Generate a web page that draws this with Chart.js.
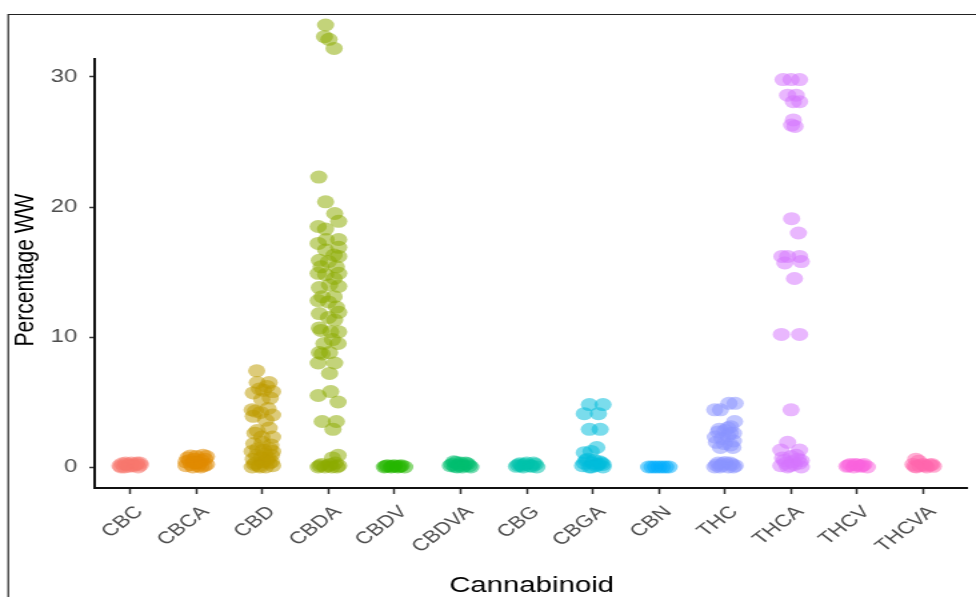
<!DOCTYPE html>
<html>
<head>
<meta charset="utf-8">
<script src="https://cdn.jsdelivr.net/npm/chart.js@4"></script>
<style>
  html, body { margin: 0; padding: 0; background: #ffffff; }
  #wrap { width: 976px; height: 597px; position: relative; overflow: hidden; }
  /* the figure is drawn on a narrower canvas and shown widened to 976px */
  #c { width: 976px; height: 597px; display: block; }
</style>
</head>
<body>
<div id="wrap"><canvas id="c" width="732" height="597" style="width:976px;height:597px"></canvas></div>
<script>
// Cannabinoid content (% w/w) per sample, as [jitter, value] pairs.
const categories = ['CBC', 'CBCA', 'CBD', 'CBDA', 'CBDV', 'CBDVA', 'CBG', 'CBGA', 'CBN', 'THC', 'THCA', 'THCV', 'THCVA'];
const yTicks = [0, 10, 20, 30];

const cbc = [[-0.18,0.1],[-0.14,0.25],[-0.1,0.0],[-0.06,0.2],[-0.02,0.05],[0.02,0.3],[0.06,0.1],[0.1,0.2],[0.14,0.0],[0.18,0.15],[-0.16,0.0],[0.0,0.15],[0.12,0.3],[-0.08,0.3],[0.17,0.3]];
const cbca = [[-0.18,0.1],[-0.12,0.5],[-0.06,0.0],[0,0.8],[0.06,0.3],[0.12,0.9],[0.18,0.2],[-0.15,0.7],[-0.09,0.2],[-0.03,0.6],[0.03,0.1],[0.09,0.5],[0.15,0.6],[0.18,0.8],[-0.18,0.4],[0.0,0.3],[0.08,0.0],[-0.1,0.85],[0.14,0.1],[-0.04,0.35]];
const cbd = [[-0.10,7.4],[-0.09,6.5],[0.12,6.5],[-0.16,5.7],[0.02,5.9],[0.18,5.8],[0.14,5.3],[-0.01,5.2],[0.08,6.2],[-0.05,6.0],
  [-0.18,4.4],[-0.03,4.2],[-0.16,3.9],[0.18,4.0],[0.06,3.6],[0.1,4.5],[-0.12,4.3],[-0.09,2.8],[0.12,3.0],[0.18,2.3],[-0.01,2.3],[-0.13,2.6],
  [0.0,1.9],[0.15,1.7],[-0.15,1.8],
  [-0.18,0.0],[-0.12,0.3],[-0.06,0.1],[0,0.4],[0.06,0.0],[0.12,0.3],[0.18,0.1],[-0.16,0.6],[-0.1,0.9],[-0.02,0.7],[0.04,1.0],[0.1,0.7],
  [0.16,0.9],[-0.18,1.2],[-0.08,1.4],[0.02,1.3],[0.13,1.4],[0.18,1.2],[-0.14,0.2],[0.08,0.5],[-0.04,0.0],[0.16,0.4]];
const cbda = [[-0.05,34.0],[-0.07,33.1],[0.01,32.9],[0.10,32.2],
  [-0.17,22.3],[-0.05,20.4],[0.11,19.5],[0.18,18.9],[-0.18,18.5],[-0.05,18.3],[0.18,17.5],[-0.18,17.2],[-0.04,17.5],[0.18,16.9],
  [-0.05,16.7],[0.10,16.3],[0.18,16.2],[-0.16,15.9],[0.0,15.8],[-0.13,15.4],[0.14,15.4],[-0.18,14.9],[-0.05,14.8],[0.18,14.9],
  [0.10,14.5],[-0.16,13.8],[0.02,14.0],[0.18,13.9],[-0.11,13.1],[0.10,13.1],[-0.18,12.8],[0.0,12.7],[0.14,12.3],[-0.16,11.8],
  [0.18,11.9],[0.0,11.5],[0.11,11.3],[-0.16,10.7],[0.04,10.4],[0.18,10.4],[-0.13,10.5],[0.07,9.8],[-0.08,9.5],[0.17,9.5],
  [-0.16,8.8],[0.02,8.8],[-0.11,8.7],[-0.18,8.0],[0.11,8.0],[0.02,7.2],[-0.18,5.5],[0.04,5.8],[0.17,5.0],[-0.11,3.5],[0.14,3.5],
  [0.08,2.9],[0.17,0.9],[0.07,0.7],
  [-0.18,0.0],[-0.12,0.2],[-0.06,0.0],[0,0.1],[0.06,0.0],[0.12,0.3],[0.18,0.1],[-0.15,0.1],[0.03,0.2],[0.15,0.0]];
const cbdv = [[-0.18,0.0],[-0.12,0.1],[-0.06,0.0],[0,0.1],[0.06,0.0],[0.12,0.1],[0.18,0.0],[-0.15,0.05],[0.09,0.05],[-0.03,0.05]];
const cbdva = [[-0.18,0.1],[-0.12,0.4],[-0.06,0.0],[0,0.3],[0.06,0.1],[0.12,0.25],[0.18,0.0],[-0.15,0.2],[-0.08,0.35],[0.03,0.0],[0.09,0.3],[0.15,0.1],[-0.02,0.15],[-0.1,0.05]];
const cbg = [[-0.18,0.05],[-0.12,0.25],[-0.06,0.0],[0,0.3],[0.06,0.1],[0.12,0.3],[0.18,0.0],[-0.15,0.15],[-0.03,0.2],[0.09,0.05],[0.15,0.2],[-0.09,0.1]];
const cbga = [[-0.06,4.8],[0.18,4.8],[-0.15,4.1],[0.10,4.1],[-0.06,2.9],[0.13,2.9],[0.07,1.5],[-0.15,1.1],[-0.03,1.2],
  [-0.18,0.1],[-0.12,0.5],[-0.06,0.0],[0,0.3],[0.06,0.1],[0.12,0.4],[0.18,0.0],[-0.15,0.3],[-0.09,0.6],[0.03,0.5],[0.09,0.2],[0.15,0.3],[-0.02,0.0],[0.18,0.2]];
const cbn = [[-0.18,0],[-0.12,0],[-0.06,0],[0,0],[0.06,0],[0.12,0],[0.18,0]];
const thc = [[-0.18,4.4],[-0.08,4.4],[0.07,4.9],[0.18,4.9],[0.17,3.5],[0.10,3.1],
  [-0.12,2.7],[0.0,2.8],[0.09,2.6],[-0.17,2.3],[-0.05,2.2],[0.05,2.4],[0.15,2.0],[-0.15,1.9],[-0.01,1.8],[0.1,1.7],[-0.08,1.5],
  [0.14,1.5],[-0.1,2.9],[0.05,3.0],[0.15,2.6],
  [-0.18,0.0],[-0.12,0.3],[-0.06,0.1],[0,0.35],[0.06,0.0],[0.12,0.2],[0.18,0.1],[-0.15,0.15],[-0.03,0.25],[0.09,0.3],[0.15,0.0],[-0.09,0.0]];
const thca = [[-0.14,29.8],[0.0,29.8],[0.15,29.8],[-0.06,28.6],[0.09,28.6],[0.04,28.1],[0.15,28.1],[0.04,26.7],[0.01,26.3],[0.07,26.2],
  [0.01,19.1],[0.13,18.0],[-0.16,16.2],[-0.06,16.2],[-0.11,15.7],[0.15,16.2],[0.18,15.8],[0.06,14.5],[-0.17,10.2],[0.15,10.2],
  [0.0,4.4],[-0.06,1.9],[-0.18,1.3],[0.15,1.3],
  [-0.18,0.1],[-0.12,0.5],[-0.06,0.0],[0,0.8],[0.06,0.2],[0.12,0.6],[0.18,0.0],[-0.15,0.7],[-0.09,0.3],[0.03,0.4],[0.09,0.9],[0.15,0.3],[-0.02,0.1],[0.18,0.5]];
const thcv = [[-0.18,0.05],[-0.12,0.2],[-0.06,0.0],[0,0.15],[0.06,0.05],[0.12,0.2],[0.18,0.0],[-0.15,0.1],[0.09,0.1],[-0.03,0.2]];
const thcva = [[-0.13,0.6],[-0.08,0.45],[-0.18,0.2],[-0.12,0.0],[-0.06,0.1],[0,0.2],[0.06,0.0],[0.12,0.15],[0.18,0.05],[0.03,0.1],[0.15,0.2],[-0.15,0.05]];

const seriesByCategory = [cbc, cbca, cbd, cbda, cbdv, cbdva, cbg, cbga, cbn, thc, thca, thcv, thcva];

// ggplot2 default hue palette for 13 groups
const palette = ['#F8766D', '#E18A00', '#BE9C00', '#8CAB00', '#24B700', '#00BE70', '#00C1AB',
                 '#00BBDA', '#00ACFC', '#8B93FF', '#D575FE', '#F962DD', '#FF65AC'];

const JITTER_SCALE = 0.86;      // horizontal spread of the jittered points
const Y_AXIS_LINE_TOP = 31.46;  // the drawn y axis line stops here
const Y_TITLE = 'Percentage WW';

function withAlpha(hex, a) {
  const n = parseInt(hex.slice(1), 16);
  return `rgba(${(n >> 16) & 255}, ${(n >> 8) & 255}, ${n & 255}, ${a})`;
}

const datasets = seriesByCategory.map((pts, i) => ({
  label: categories[i],
  data: pts.map(([dx, v]) => ({ x: i + dx * JITTER_SCALE, y: v })),
  backgroundColor: withAlpha(palette[i], 0.52),
  borderWidth: 0,
  pointRadius: 6.5,
  pointHoverRadius: 6.5,
  clip: false
}));

const fontFamily = '"Liberation Sans", Arial, sans-serif';

// Outer frame, the y axis line (panel height only) and the y axis title
const framePlugin = {
  id: 'frame',
  beforeDraw(chart) {
    const c = chart.ctx;
    c.save();
    c.fillStyle = '#ffffff';
    c.fillRect(0, 0, chart.width, chart.height);
    c.strokeStyle = '#222222';
    c.lineWidth = 1.2;
    c.beginPath();
    c.moveTo(6.2, chart.height);
    c.lineTo(6.2, 14.5);
    c.lineTo(chart.width, 14.5);
    c.stroke();
    c.restore();
  },
  afterDraw(chart) {
    const c = chart.ctx;
    const area = chart.chartArea;
    const y = chart.scales.y;
    const lineTop = y.getPixelForValue(Y_AXIS_LINE_TOP);
    c.save();
    c.strokeStyle = '#111111';
    c.lineWidth = 2;
    c.beginPath();
    c.moveTo(area.left - 1, lineTop);
    c.lineTo(area.left - 1, area.bottom + 1);
    c.stroke();

    c.translate(19.5, (lineTop + area.bottom) / 2 - 3);
    c.rotate(-Math.PI / 2);
    c.fillStyle = '#000000';
    c.font = `21px ${fontFamily}`;
    c.textAlign = 'center';
    c.textBaseline = 'middle';
    c.fillText(Y_TITLE, 0, 0);
    c.restore();
  }
};

new Chart(document.getElementById('c'), {
  type: 'scatter',
  data: { datasets },
  plugins: [framePlugin],
  options: {
    responsive: false,
    animation: false,
    events: [],
    layout: { padding: { top: 14, right: 1, bottom: 0, left: 0 } },
    plugins: { legend: { display: false }, tooltip: { enabled: false } },
    scales: {
      x: {
        type: 'linear',
        min: -0.5175,
        max: 12.667,
        afterBuildTicks: (s) => { s.ticks = categories.map((_, i) => ({ value: i })); },
        afterFit: (s) => { s.height = 109; },
        ticks: {
          callback: (v) => categories[v],
          autoSkip: false,
          minRotation: 45,
          maxRotation: 45,
          color: '#4d4d4d',
          font: { family: fontFamily, size: 17 },
          padding: 8,
          labelOffset: 7
        },
        grid: { display: true, drawOnChartArea: false, drawTicks: true, tickLength: 6, tickColor: '#333333', tickWidth: 1.5 },
        border: { display: true, color: '#111111', width: 2 },
        title: { display: true, text: 'Cannabinoid', color: '#000000', font: { family: fontFamily, size: 22 }, padding: { top: 0, bottom: -2 } }
      },
      y: {
        type: 'linear',
        min: -1.615,
        max: 34.846,
        afterBuildTicks: (s) => { s.ticks = yTicks.map(v => ({ value: v })); },
        afterFit: (s) => { s.width = 72; s.paddingTop = 0; s.paddingBottom = 0; },
        ticks: {
          color: '#4d4d4d',
          font: { family: fontFamily, size: 18 },
          padding: 9
        },
        grid: { display: true, drawOnChartArea: false, drawTicks: true, tickLength: 5, tickColor: '#333333', tickWidth: 1.5 },
        border: { display: false },
        title: { display: false }
      }
    }
  }
});
</script>
</body>
</html>
